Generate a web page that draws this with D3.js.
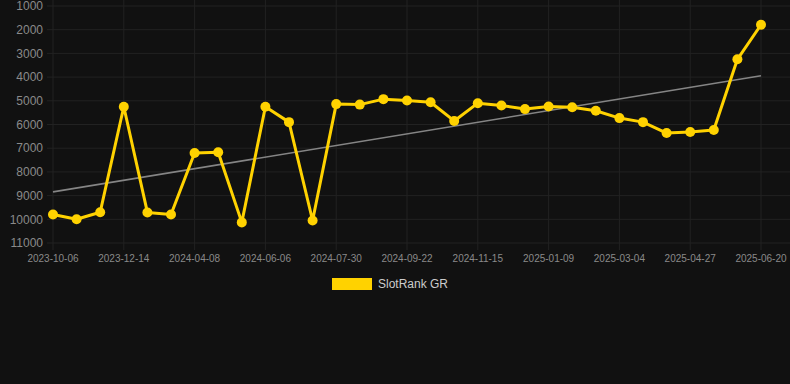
<!DOCTYPE html>
<html>
<head>
<meta charset="utf-8">
<script src="https://cdn.jsdelivr.net/npm/d3@7.9.0/dist/d3.min.js"></script>
<style>
  html, body { margin: 0; padding: 0; background: #111111; }
  svg { display: block; font-family: "Liberation Sans", Arial, sans-serif; }
</style>
</head>
<body>
<svg id="chart" width="790" height="384"></svg>
<script>
// --- data
const dates = [
  '2023-10-06', '2023-10-29', '2023-11-21', '2023-12-14', '2024-01-06', '2024-01-29',
  '2024-04-08', '2024-04-28', '2024-05-17', '2024-06-06', '2024-06-24', '2024-07-12',
  '2024-07-30', '2024-08-17', '2024-09-04', '2024-09-22', '2024-10-10', '2024-10-28',
  '2024-11-15', '2024-12-03', '2024-12-21', '2025-01-09', '2025-01-27', '2025-02-14',
  '2025-03-04', '2025-03-22', '2025-04-09', '2025-04-27', '2025-05-15', '2025-06-02',
  '2025-06-20'
];
const ranks = [
  9800, 10000, 9700, 5250, 9710, 9800,
  7200, 7170, 10130, 5250, 5900, 10050,
  5140, 5160, 4930, 4990, 5060, 5850,
  5100, 5200, 5350, 5240, 5270, 5420,
  5730, 5900, 6360, 6320, 6230, 3250,
  1790
];
const yTicks = [1000, 2000, 3000, 4000, 5000, 6000, 7000, 8000, 9000, 10000, 11000];
const seriesName = 'SlotRank GR';

const svg = d3.select('#chart');
const x = d3.scalePoint().domain(dates).range([53, 761]);
const y = d3.scaleLinear().domain([1000, 11000]).range([6, 243]);

// grid
svg.append('g').selectAll('line.h')
  .data(yTicks).join('line')
  .attr('x1', 47).attr('x2', 790)
  .attr('y1', d => y(d)).attr('y2', d => y(d))
  .attr('stroke', '#222222').attr('stroke-width', 1);

const labelled = dates.filter((_, i) => i % 3 === 0);
svg.append('g').selectAll('line.v')
  .data(labelled).join('line')
  .attr('x1', d => x(d)).attr('x2', d => x(d))
  .attr('y1', 0).attr('y2', 250)
  .attr('stroke', '#222222').attr('stroke-width', 1);

// y axis labels
svg.append('g').selectAll('text')
  .data(yTicks).join('text')
  .attr('x', 43).attr('y', d => y(d))
  .attr('dy', '0.35em')
  .attr('text-anchor', 'end')
  .attr('fill', '#8a8a8a')
  .attr('font-size', 12)
  .text(d => d);

// x axis labels
svg.append('g').selectAll('text')
  .data(labelled).join('text')
  .attr('x', d => x(d)).attr('y', 262)
  .attr('text-anchor', 'middle')
  .attr('fill', '#8a8a8a')
  .attr('font-size', 10)
  .text(d => d);

// trend line (least squares on index)
const n = ranks.length;
const idx = d3.range(n);
const mx = d3.mean(idx), my = d3.mean(ranks);
const slope = d3.sum(idx, i => (i - mx) * (ranks[i] - my)) / d3.sum(idx, i => (i - mx) ** 2);
const icpt = my - slope * mx;
svg.append('line')
  .attr('x1', x(dates[0])).attr('y1', y(icpt))
  .attr('x2', x(dates[n - 1])).attr('y2', y(icpt + slope * (n - 1)))
  .attr('stroke', '#858585').attr('stroke-width', 1.6);

// series
const line = d3.line().x((d, i) => x(dates[i])).y(d => y(d));
svg.append('path')
  .datum(ranks)
  .attr('d', line)
  .attr('fill', 'none')
  .attr('stroke', '#ffd200')
  .attr('stroke-width', 3)
  .attr('stroke-linejoin', 'round');

svg.append('g').selectAll('circle')
  .data(ranks).join('circle')
  .attr('cx', (d, i) => x(dates[i]))
  .attr('cy', d => y(d))
  .attr('r', 5)
  .attr('fill', '#ffd200');

// legend
const lg = svg.append('g').attr('transform', 'translate(332,278)');
lg.append('rect').attr('width', 40).attr('height', 12).attr('fill', '#ffd200');
lg.append('text').attr('x', 46).attr('y', 6).attr('dy', '0.35em')
  .attr('fill', '#cccccc').attr('font-size', 12).text(seriesName);
</script>
</body>
</html>
